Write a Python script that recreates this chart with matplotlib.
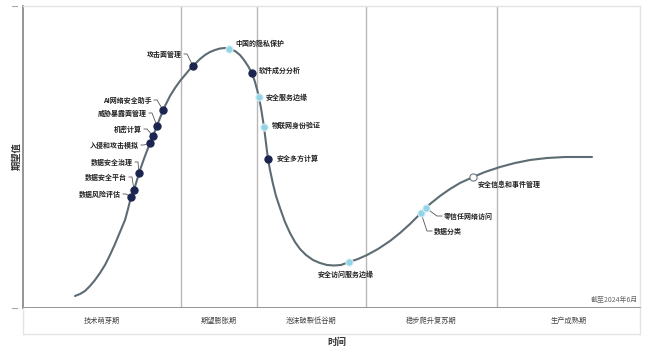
import matplotlib
matplotlib.use("Agg")
import matplotlib.pyplot as plt
from matplotlib.lines import Line2D

plt.rcParams['font.family'] = ['Noto Sans CJK SC', 'DejaVu Sans']

# hype curve (time, expectation)
curve_t = [52, 57, 62, 67, 72, 77, 82, 87, 92, 97, 102, 105, 108, 111, 114, 117, 122,
           127, 132, 137, 142, 147, 152, 157, 162, 167, 172, 177, 182, 187, 192, 197,
           202, 207, 212, 217, 221, 225, 229, 232, 235, 238, 241, 243, 245, 247, 250,
           253, 257, 262, 267, 272, 277, 283, 290, 297, 304, 311, 318, 326, 335, 344,
           355, 367, 377, 387, 398, 407, 417, 427, 437, 450, 462, 477, 492, 507, 524,
           542, 557, 569]
curve_e = [12, 14, 17, 22, 28, 35, 43, 53, 64, 76, 88, 99, 111, 118, 128, 138, 152,
           165, 177, 190, 202, 212, 220, 227, 233, 239, 244, 249, 253, 256, 258, 259.5,
           260, 259, 257, 253, 248, 242, 235, 226, 215, 200, 181, 165, 149, 138, 124,
           112, 100, 86, 75, 66, 59, 53, 48, 45, 43, 42.5, 43, 46, 49, 53,
           59, 67, 75, 84, 95, 104, 112, 119, 125, 131, 136, 141, 145, 148, 150,
           151, 151, 151]

# technologies on the curve
tech_names = ['数据风险评估', '数据安全平台', '数据安全治理', '入侵和攻击模拟', '机密计算',
              '威胁暴露面管理', 'AI网络安全助手', '攻击面管理', '中国的隐私保护', '软件成分分析',
              '安全服务边缘', '物联网身份验证', '安全多方计算', '安全访问服务边缘', '数据分类',
              '零信任网络访问', '安全信息和事件管理']
tech_t = [108, 111, 116, 127, 130, 134, 140, 170, 206, 229, 236, 241, 245, 326, 398, 403, 450]
tech_e = [111, 118, 135, 165, 172, 182, 198, 242, 259, 235, 211, 181, 149, 46, 95, 100, 131]
# time to plateau class: 'dark', 'light', 'white'
tech_kind = ['dark', 'dark', 'dark', 'dark', 'dark', 'dark', 'dark', 'dark', 'light', 'dark',
             'light', 'light', 'dark', 'light', 'light', 'light', 'white']

phases = ['技术萌芽期', '期望膨胀期', '泡沫破裂低谷期', '稳步爬升复苏期', '生产成熟期']
phase_edges = [0, 158, 234, 343, 474, 617]

# label layout: (dx, dy) in pixels from the marker, alignment, connector
label_off = [(-10, 3), (-7, 13), (-6, 11), (-11, -2), (-11, 7), (-10, 13), (-11, 10),
             (-11, 12), (6, 6), (7, 3), (7, 0), (8, 2), (9, 1), (-3, -12), (13, -18),
             (18, -8), (5, -7)]
label_ha = ['right'] * 8 + ['left'] * 5 + ['center'] + ['left'] * 3
label_link = [True] * 8 + [False] * 6 + [True, True, False]

W, H = 646, 352
fig = plt.figure(figsize=(W / 100, H / 100), dpi=100)
ax = fig.add_axes([23 / W, 44 / H, 617 / W, 302 / H])
band = fig.add_axes([23 / W, 18 / H, 617 / W, 26 / H])

ax.set_xlim(0, 617)
ax.set_ylim(0, 302)
ax.set_xticks([])
ax.set_yticks([])
for s in ['top', 'right']:
    ax.spines[s].set_color('#e4e4e4')
    ax.spines[s].set_linewidth(1.0)
for s in ['left', 'bottom']:
    ax.spines[s].set_color('#8c8c8c')
    ax.spines[s].set_linewidth(1.3)

for x in phase_edges[1:-1]:
    ax.axvline(x, color='#b8b8b8', lw=1.0, zorder=1)

ax.plot(curve_t, curve_e, color='#5d6b73', lw=1.5, zorder=2,
        solid_capstyle='round', solid_joinstyle='round')

styles = {'dark': dict(mfc='#1b2550', mec='#1b2550'),
          'light': dict(mfc='#92d3e6', mec='#d6eef5'),
          'white': dict(mfc='white', mec='#6b7780')}

for i, name in enumerate(tech_names):
    mx, my = tech_t[i], tech_e[i]
    dx, dy = label_off[i]
    ha = label_ha[i]
    tx, ty = mx + dx, my + dy
    if label_link[i]:
        if ha == 'right':
            xs = [tx + 2, tx + 5, mx]
        else:
            xs = [tx - 2, tx - 7, mx]
        ax.plot(xs, [ty, ty, my], color='#555555', lw=0.6, zorder=2)
    ax.plot(mx, my, 'o', ms=5.2, mew=0.8, zorder=4, **styles[tech_kind[i]])
    ax.annotate(name, (mx, my), xytext=(dx, dy), textcoords='offset pixels',
                ha=ha, va='center', fontsize=5, fontweight='bold', color='#222222')

ax.text(615, 8, '截至2024年6月', ha='right', va='center', fontsize=5, color='#666666')

band.set_xlim(0, 617)
band.set_ylim(0, 1)
band.set_xticks([])
band.set_yticks([])
for s in band.spines.values():
    s.set_color('#e4e4e4')
    s.set_linewidth(1.0)
band.spines['top'].set_visible(False)
for i, p in enumerate(phases):
    band.text((phase_edges[i] + phase_edges[i + 1]) / 2, 0.5, p, ha='center', va='center',
              fontsize=5.2, color='#444444')

fig.text(337 / W, 10 / H, '时间', ha='center', va='center', fontsize=6.8,
         fontweight='bold', color='#333333')
fig.text(17 / W, 196 / H, '期望值', ha='center', va='center', rotation=90, fontsize=6.7,
         fontweight='bold', color='#333333')

for yy in [346, 44]:
    fig.add_artist(Line2D([12 / W, 17 / W], [yy / H, yy / H], color='#aaaaaa', lw=0.8))

fig.savefig('out.png', dpi=100)
